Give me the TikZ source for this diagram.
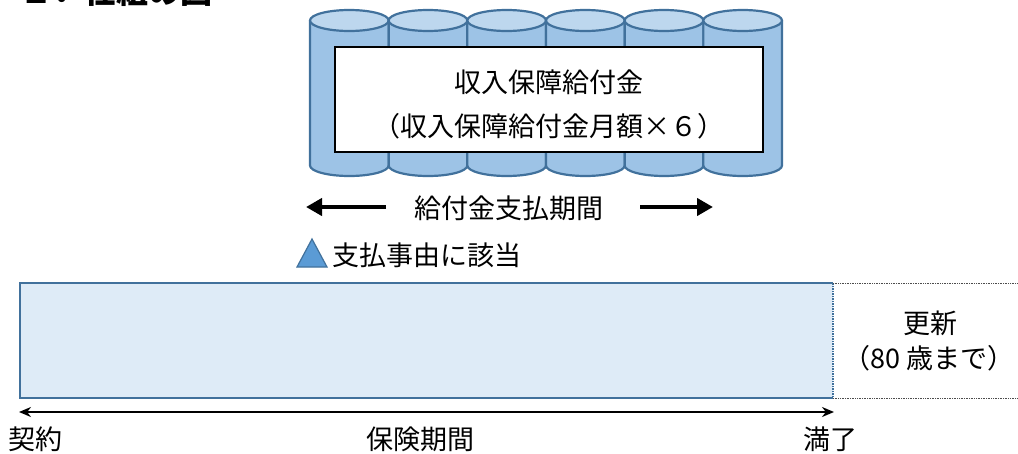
\documentclass[tikz,border=0pt]{standalone}
\usepackage{fontspec}
\setmainfont{Noto Sans CJK JP}
\usetikzlibrary{arrows.meta}
\definecolor{cylbody}{HTML}{9DC3E6}
\definecolor{cyltop}{HTML}{BDD7EE}
\definecolor{cylline}{HTML}{41719C}
\definecolor{termfill}{HTML}{DEEBF7}
\definecolor{trifill}{HTML}{5B9BD5}
\tikzset{
  cyl/.style={draw=cylline, line width=2.2pt},
  jtext/.style={inner sep=0pt, font=\fontsize{27}{32}\selectfont},
  bigarrow/.style={line width=4.5pt, -{Triangle[length=16pt,width=17pt]}},
  termarrow/.style={line width=2.6pt, {Stealth[length=12pt,width=10pt]}-{Stealth[length=12pt,width=10pt]}},
  dotline/.style={densely dotted, line width=0.7pt, black!70},
}
\begin{document}
\begin{tikzpicture}[x=1pt,y=-1pt]
\useasboundingbox (0,0) rectangle (1018,453);
% title (cut off at top)
\node[anchor=base west, inner sep=0pt, font=\fontsize{32}{36}\selectfont\bfseries] (title) at (20,3) {１．仕組の図};
% cylinders
\foreach \i in {0,...,5}{
  \pgfmathsetmacro{\xl}{310+\i*78.67}
  \pgfmathsetmacro{\xr}{\xl+78.67}
  \pgfmathsetmacro{\cx}{\xl+39.33}
  \draw[cyl, fill=cylbody] (\xl,20.5) -- (\xl,165.5) arc[start angle=180, end angle=0, x radius=39.33, y radius=10.5] -- (\xr,20.5);
  \draw[cyl, fill=cyltop] (\cx,20.5) ellipse[x radius=39.33, y radius=10.5];
}
% white box
\node[draw=black, line width=1.6pt, fill=white, minimum width=428pt, minimum height=105pt, inner sep=0pt] (box) at (549,99.5) {};
\node[jtext] (amt1) at (549,82) {収入保障給付金};
\node[jtext] (amt2) at (549,126) {（収入保障給付金月額×６）};
% payment period
\node[jtext] (payperiod) at (509,208) {給付金支払期間};
\coordinate (pl1) at (386,207);
\coordinate (pl2) at (306,207);
\coordinate (pr1) at (640,207);
\coordinate (pr2) at (713,207);
\draw[bigarrow] (pl1) -- (pl2);
\draw[bigarrow] (pr1) -- (pr2);
% trigger
\coordinate (ta) at (312,239);
\coordinate (tb) at (297,267);
\coordinate (tc) at (327,267);
\draw[draw=cylline, line width=1.2pt, fill=trifill] (ta) -- (tb) -- (tc) -- cycle;
\node[jtext, anchor=west] (trigger) at (332,255) {支払事由に該当};
% term rectangle
\fill[termfill] (20,283) rectangle (833,398);
\draw[draw=cylline, line width=2.6pt] (833,283) -- (20,283) -- (20,398) -- (833,398);
\draw[draw=cylline, line width=1.5pt, densely dotted] (833,283) -- (833,398);
\coordinate (tr) at (833,283);
\coordinate (br) at (833,398);
\coordinate (tre) at (1018,283);
\coordinate (bre) at (1018,398);
\draw[dotline] (tr) -- (tre);
\draw[dotline] (br) -- (bre);
\node[jtext] (renew1) at (930,323) {更新};
\node[jtext] (renew2) at (929,358) {（80 歳まで）};
% term arrow
\coordinate (ts) at (19,412);
\coordinate (te) at (834,412);
\draw[termarrow] (ts) -- (te);
\node[jtext, anchor=west] (start) at (8,439) {契約};
\node[jtext] (term) at (420,439) {保険期間};
\node[jtext, anchor=west] (end) at (803,439) {満了};
\end{tikzpicture}
\end{document}
